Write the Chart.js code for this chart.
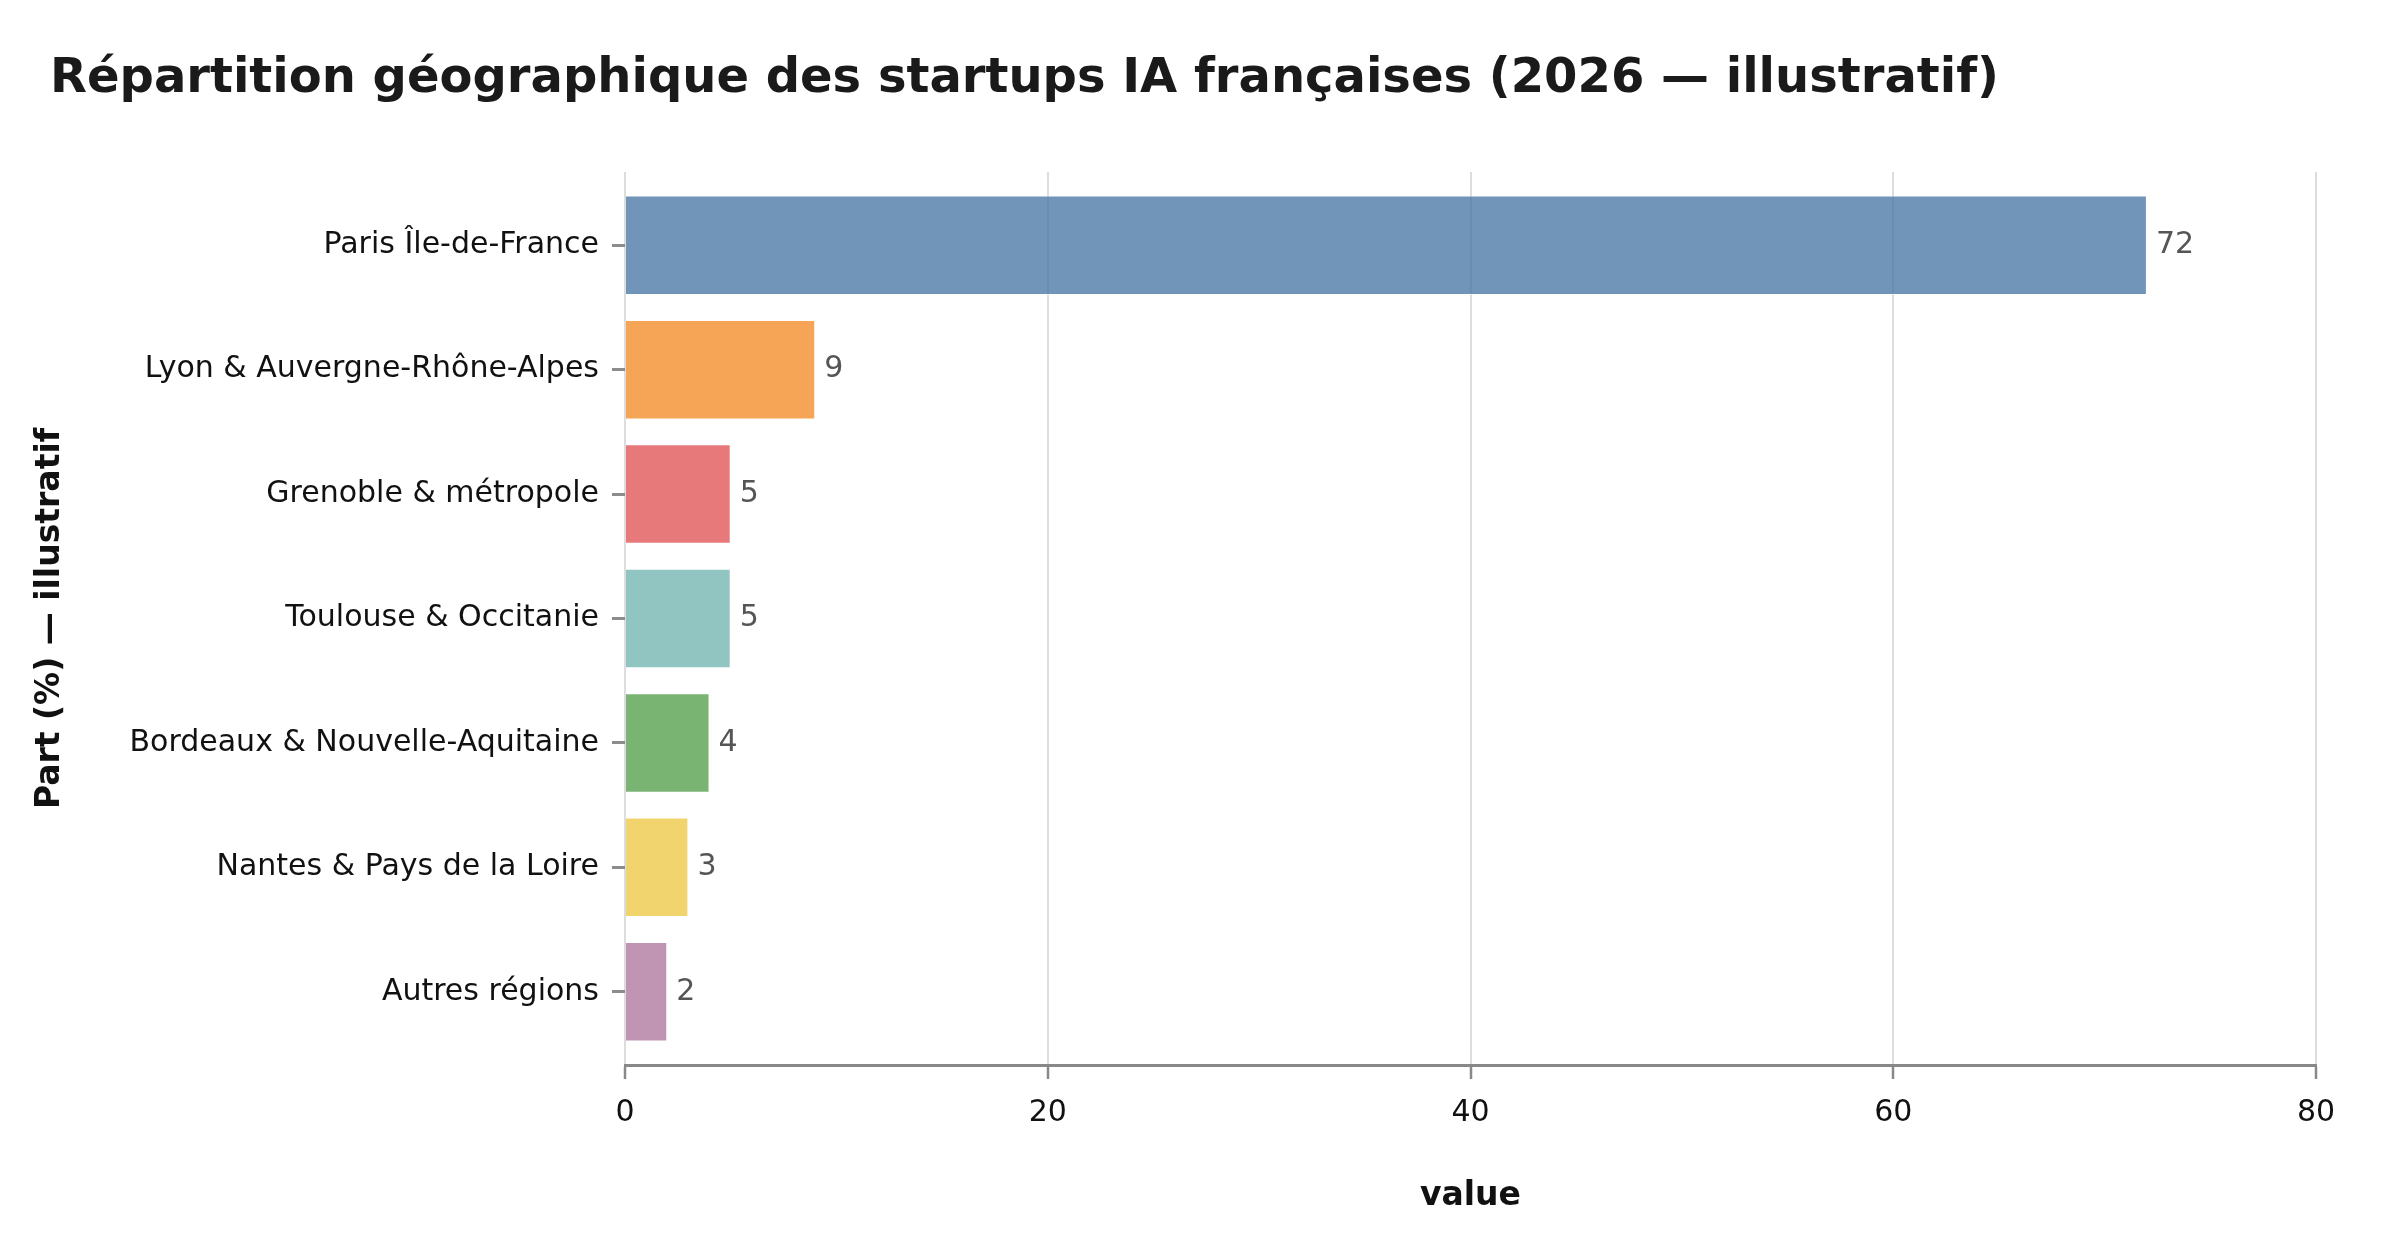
<!DOCTYPE html>
<html lang="fr">
<head>
<meta charset="utf-8">
<title>Startups IA françaises</title>
<script src="https://cdn.jsdelivr.net/npm/chart.js@4.4.1/dist/chart.umd.min.js"></script>
<style>
  html, body { margin: 0; padding: 0; background: #fff; }
  #chart { display: block; }
</style>
</head>
<body>
<canvas id="chart" width="2400" height="1260"></canvas>
<script>
// Data
const regions = [
    'Paris Île-de-France',
    'Lyon & Auvergne-Rhône-Alpes',
    'Grenoble & métropole',
    'Toulouse & Occitanie',
    'Bordeaux & Nouvelle-Aquitaine',
    'Nantes & Pays de la Loire',
    'Autres régions'
];
const shares = [72, 9, 5, 5, 4, 3, 2];
const barColors = [
    'rgba(78,121,167,0.8)',
    'rgba(242,142,43,0.8)',
    'rgba(225,87,89,0.8)',
    'rgba(118,183,178,0.8)',
    'rgba(89,161,79,0.8)',
    'rgba(237,201,72,0.8)',
    'rgba(176,122,161,0.8)'
];
const xTicks = [0, 20, 40, 60, 80];

const FONT = "'DejaVu Sans', 'Liberation Sans', sans-serif";

// value written at the end of each bar
const barValueLabels = {
    id: 'barValueLabels',
    afterDatasetsDraw(chart) {
        const ctx = chart.ctx;
        const meta = chart.getDatasetMeta(0);
        ctx.save();
        ctx.font = '30px ' + FONT;
        ctx.fillStyle = '#555555';
        ctx.textAlign = 'left';
        ctx.textBaseline = 'middle';
        meta.data.forEach((bar, i) => {
            ctx.fillText(String(shares[i]), bar.x + 9, bar.y);
        });
        ctx.restore();
    }
};

const ctx = document.getElementById('chart').getContext('2d');
const myChart = new Chart(ctx, {
    type: 'bar',
    data: {
        labels: regions,
        datasets: [{
            label: 'Part (%)',
            // linear index axis so the bands keep a little margin top and bottom
            data: shares.map((v, i) => ({ x: v, y: i })),
            backgroundColor: barColors,
            borderColor: 'rgba(255,255,255,0.6)',
            borderWidth: 1,
            barPercentage: 0.8,
            categoryPercentage: 1.0
        }]
    },
    options: {
        indexAxis: 'y',
        responsive: false,
        devicePixelRatio: 1,
        animation: false,
        layout: { padding: { left: 50, right: 84, top: 0, bottom: 0 } },
        plugins: {
            legend: { display: false },
            tooltip: {
                callbacks: {
                    title: items => regions[items[0].dataIndex]
                }
            },
            title: {
                display: true,
                text: 'Répartition géographique des startups IA françaises (2026 — illustratif)',
                align: 'start',
                color: '#1a1a1a',
                font: { family: FONT, size: 48, weight: 'bold' },
                padding: { top: 51, bottom: 63.4 }
            }
        },
        scales: {
            x: {
                type: 'linear',
                position: 'bottom',
                min: xTicks[0],
                max: xTicks[xTicks.length - 1],
                afterBuildTicks: s => { s.ticks = xTicks.map(v => ({ value: v })); },
                afterFit: s => { s.height = 195; },
                ticks: {
                    color: '#111111',
                    font: { family: FONT, size: 30 },
                    padding: 16,
                    maxRotation: 0
                },
                grid: {
                    color: '#dddddd',
                    lineWidth: 2,
                    tickColor: '#888888',
                    tickLength: 14,
                    tickWidth: 2.5
                },
                border: { display: true, color: '#888888', width: 3 },
                title: {
                    display: true,
                    text: 'value',
                    color: '#111111',
                    font: { family: FONT, size: 33, weight: 'bold' },
                    padding: { top: 0, bottom: 44 }
                }
            },
            y: {
                type: 'linear',
                reverse: true,
                offset: false,
                min: -0.589,
                max: regions.length - 1 + 0.589,
                afterFit: s => { s.width = 575; },
                ticks: {
                    stepSize: 1,
                    includeBounds: false,
                    color: '#111111',
                    font: { family: FONT, size: 30 },
                    padding: 13,
                    callback: v => (Number.isInteger(v) ? regions[v] : '')
                },
                grid: {
                    offset: false,
                    drawOnChartArea: false,
                    drawTicks: true,
                    tickColor: '#8c8c8c',
                    tickLength: 13,
                    tickWidth: 3
                },
                border: { display: false },
                title: {
                    display: true,
                    text: 'Part (%) — illustratif',
                    color: '#111111',
                    font: { family: FONT, size: 33, weight: 'bold' },
                    padding: { top: -19.8, bottom: 0 }
                }
            }
        }
    },
    plugins: [barValueLabels]
});
</script>
</body>
</html>
